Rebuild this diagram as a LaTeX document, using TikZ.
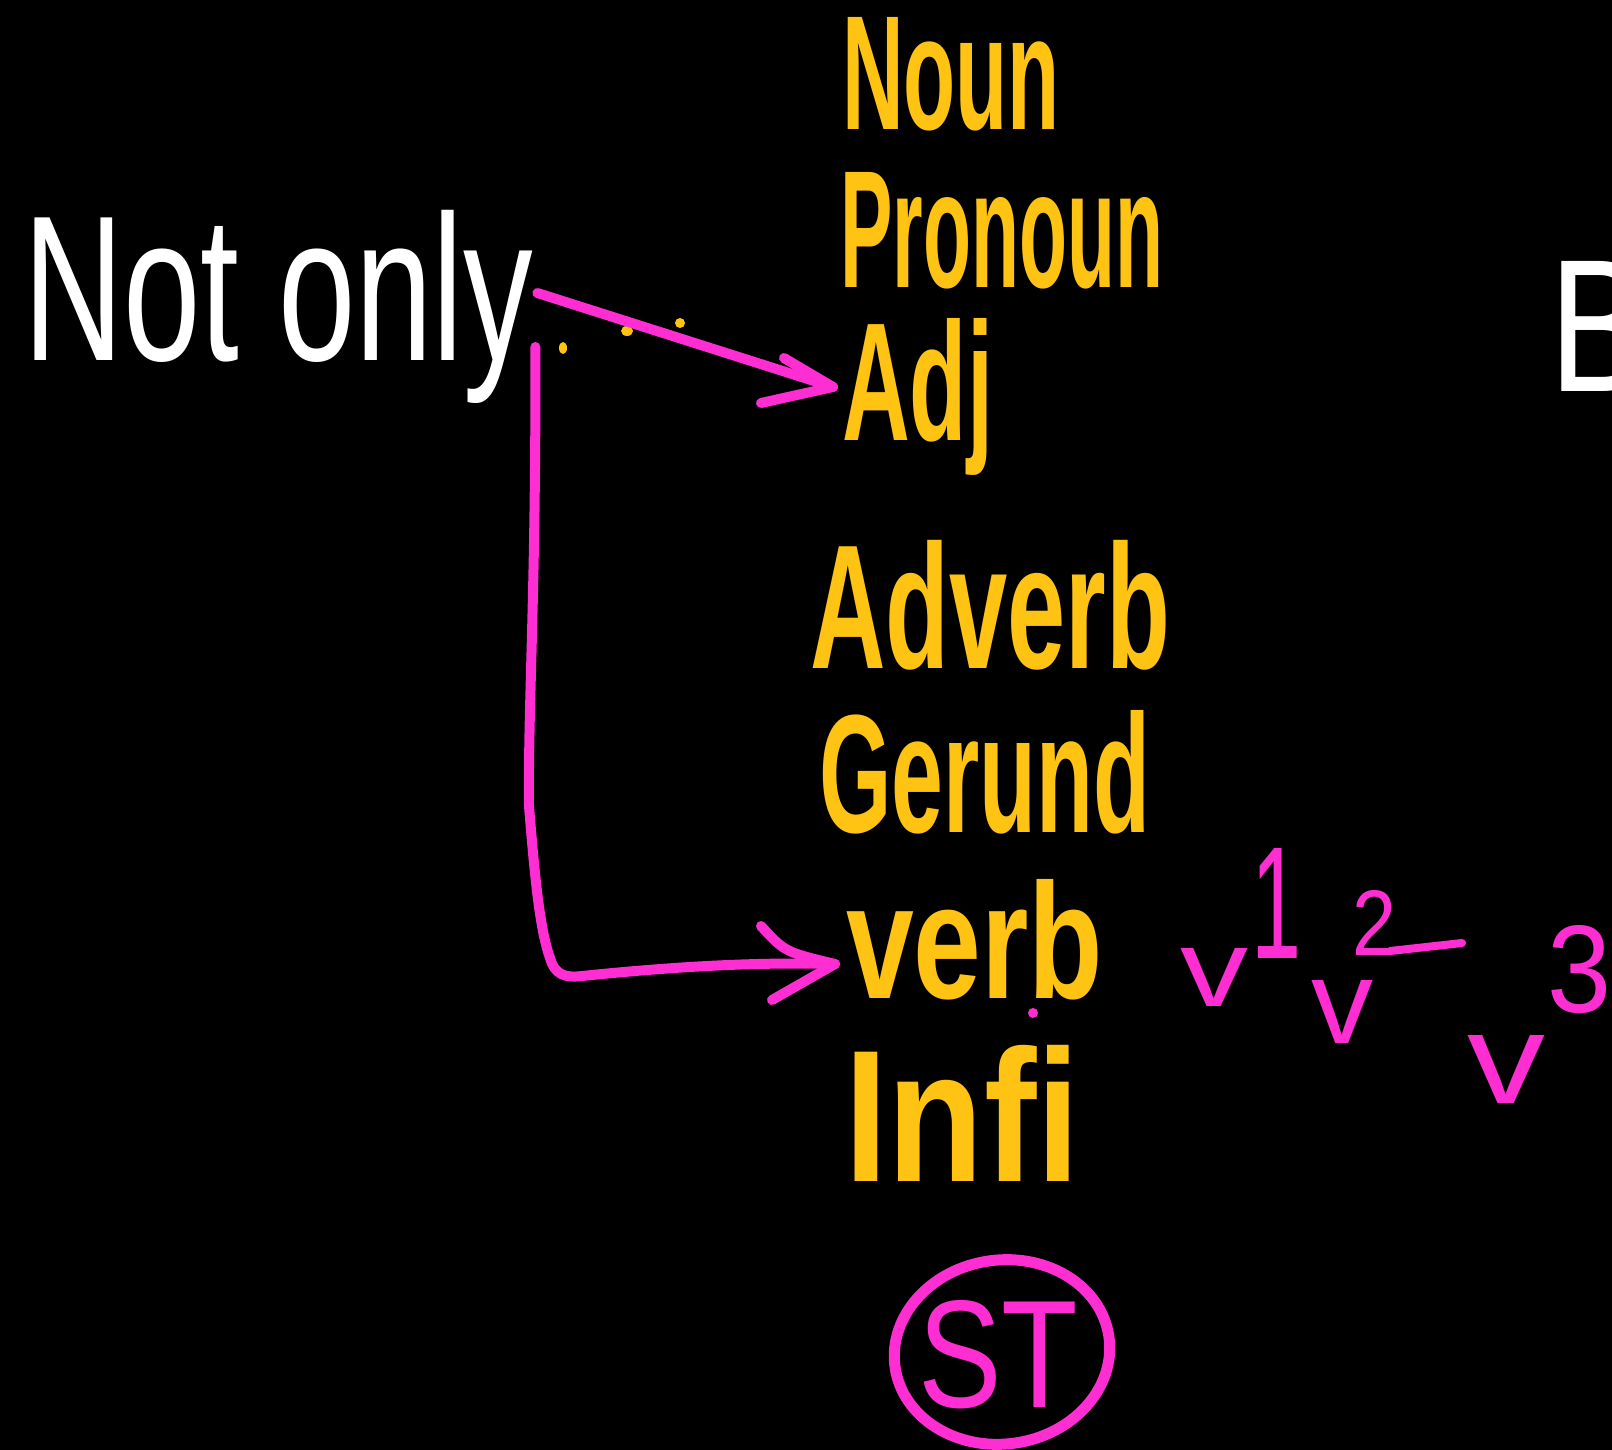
\documentclass[tikz,border=0pt]{standalone}
\usepackage{fontspec}
\setmainfont{Liberation Sans}
\usepackage{graphicx}
\definecolor{hwyellow}{HTML}{FFC314}
\definecolor{hwpink}{HTML}{FF2ED3}
\newcommand{\hwbox}[3]{\resizebox{#1pt}{#2pt}{#3}}
\tikzset{
  word/.style={inner sep=0pt, outer sep=0pt, anchor=base west, text=hwyellow},
  chalk/.style={inner sep=0pt, outer sep=0pt, anchor=base west, text=white},
  pinktext/.style={inner sep=0pt, outer sep=0pt, anchor=base west, text=hwpink},
  pk/.style={draw=hwpink, line width=10pt, line cap=round, line join=round},
  speck/.style={fill=hwyellow}
}
\begin{document}
\begin{tikzpicture}[x=1pt,y=-1pt]
\useasboundingbox (0,0) rectangle (1612,1450);
\fill[black] (0,0) rectangle (1612,1450);
\clip (0,0) rectangle (1612,1450);

% left phrase
\node[chalk] (notonly) at (23,360) {\hwbox{510}{150}{Not only}};

% column of words (heavier strokes, as the marker)
\node[word] (noun)    at (842,130)  {\hwbox{218}{112}{\bfseries Noun}};
\node[word] (pronoun) at (840,287)  {\hwbox{323}{115}{\bfseries Pronoun}};
\node[word] (adj)     at (842,440)  {\hwbox{151}{122}{\bfseries Adj}};
\node[word] (adverb)  at (810,668)  {\hwbox{360}{128}{\bfseries Adverb}};
\node[word] (gerund)  at (819,832)  {\hwbox{331}{122}{\bfseries Gerund}};
\node[word] (verb)    at (846,998)  {\hwbox{257}{119}{\bfseries verb}};
\node[word] (infi)    at (844,1181) {\hwbox{236}{136}{\bfseries Infi}};
\node[word] (st)      at (918,1407) {\hwbox{160}{107}{\color{hwpink}ST}};

% cut-off letter at right
\node[chalk] (bee) at (1549,391) {\hwbox{100}{130}{B}};

% verb forms
\node[pinktext] (va) at (1180,1006) {\hwbox{68}{58}{v}};
\node[pinktext] (na) at (1251,958)  {\hwbox{50}{110}{1}};
\node[pinktext] (vb) at (1311,1043) {\hwbox{62}{63}{v}};
\node[pinktext] (nb) at (1352,955)  {\hwbox{44}{65}{2}};
\node[pinktext] (vc) at (1467,1103) {\hwbox{78}{68}{v}};
\node[pinktext] (nc) at (1547,1012) {\hwbox{64}{87}{3}};
\draw[pk, line width=8pt] ([shift={(38,-4)}]nb.base west) -- ([shift={(110,-12)}]nb.base west);

% circle round ST
\draw[pk, line width=11pt] (1002,1352) ellipse [x radius=108pt, y radius=92pt, rotate=8];

% specks
\fill[speck] (563,348) ellipse [x radius=4pt, y radius=6pt];
\fill[speck] (627,331) ellipse [x radius=6pt, y radius=5pt];
\fill[speck] (680,323) ellipse [x radius=5pt, y radius=5pt];
\fill[hwpink] (1033,1013) circle [radius=5pt];

% arrow 1: Not only -> Adj
\coordinate (s1) at ([shift={(4,-67)}]notonly.base east);
\coordinate (t1) at ([shift={(-9,-53)}]adj.base west);
\draw[pk] (s1) -- (t1);
\draw[pk] ([shift={(-49,-29)}]t1) -- (t1) -- ([shift={(-72,16)}]t1);

% arrow 2: Not only -> verb
\coordinate (s2) at ([shift={(2,-13)}]notonly.base east);
\coordinate (t2) at ([shift={(-11,-34)}]verb.base west);
\draw[pk] (s2) .. controls (536,600) and (528,700) .. (529,806)
  .. controls (535,880) and (540,930) .. (550,958)
  .. controls (555,975) and (565,978) .. (582,976)
  .. controls (680,966) and (760,962) .. (t2);
\draw[pk] ([shift={(-74,-38)}]t2) .. controls ([shift={(-50,-12)}]t2) .. (t2) -- ([shift={(-63,36)}]t2);
\end{tikzpicture}
\end{document}
